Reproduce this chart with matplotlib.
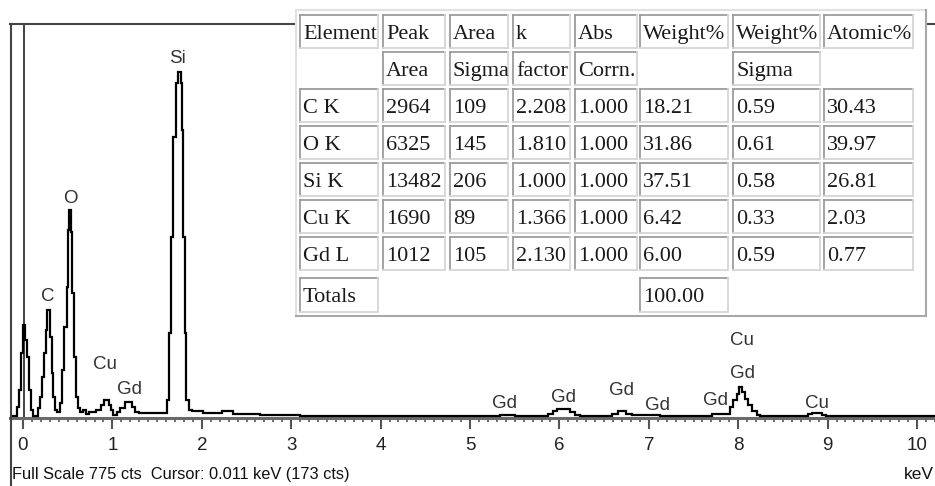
import numpy as np
import matplotlib
matplotlib.use("Agg")
import matplotlib.pyplot as plt
from matplotlib.patches import Rectangle
from matplotlib.lines import Line2D
from matplotlib.ticker import FixedLocator

# ---------------- spectrum data (step edges in keV, counts per step) -------------
edges = [-0.145, -0.067, -0.045, -0.022, 0.000, 0.022, 0.045, 0.067, 0.089, 0.112,
         0.168, 0.190, 0.213, 0.235, 0.257, 0.274, 0.302, 0.319, 0.336, 0.358,
         0.380, 0.414, 0.433, 0.459, 0.489, 0.507, 0.520, 0.537, 0.551, 0.574,
         0.593, 0.615, 0.638, 0.671, 0.705, 0.738, 0.817, 0.872, 0.906, 0.962,
         0.984, 1.007, 1.051, 1.085, 1.141, 1.219, 1.253, 1.298, 1.607, 1.636,
         1.655, 1.674, 1.711, 1.734, 1.764, 1.775, 1.793, 1.809, 1.823, 1.857,
         1.890, 2.013, 2.226, 2.349, 2.651, 3.098, 5.336, 5.503, 5.872, 5.928,
         5.973, 6.119, 6.174, 6.230, 6.588, 6.655, 6.745, 6.812, 7.125, 7.707,
         7.908, 7.942, 7.981, 8.012, 8.043, 8.076, 8.113, 8.151, 8.207, 8.244,
         8.781, 8.826, 8.937, 8.982, 10.201]
counts = [3, 22, 55, 128, 183, 153, 120, 55, 16,
          4, 20, 41, 81, 128, 173, 212, 159, 89, 41,
          16, 12, 30, 94, 179, 258, 370, 409, 366, 246,
          120, 41, 20, 12, 16, 8, 12, 16, 26, 35,
          26, 16, 6, 12, 20, 32, 22, 12, 9, 35,
          167, 356, 553, 659, 681, 659, 567, 356, 167, 35,
          16, 14, 10, 13, 8, 5, 3, 5, 3, 8,
          14, 17, 12, 6, 3, 8, 13, 7, 6, 3,
          7, 22, 35, 47, 61, 51, 37, 26, 14, 6,
          3, 7, 9, 6, 3]

# ---------------- peak labels -----------------
label_text = ["Si", "O", "C", "Cu", "Gd", "Gd", "Gd", "Gd", "Gd", "Gd", "Cu", "Gd", "Cu"]
label_energy = [1.723, 0.526, 0.274, 0.917, 1.191, 5.39, 6.046, 6.70, 7.10, 7.75, 8.04, 8.05, 8.88]
label_counts = [711, 436, 243, 109, 61, 32, 45, 58, 29, 39, 156, 91, 33]

# ---------------- quantification table -----------------
header1 = ["Element", "Peak", "Area", "k", "Abs", "Weight%", "Weight%", "Atomic%"]
header2 = ["", "Area", "Sigma", "factor", "Corrn.", "", "Sigma", ""]
elements = ["C K", "O K", "Si K", "Cu K", "Gd L"]
peak_area = ["2964", "6325", "13482", "1690", "1012"]
area_sigma = ["109", "145", "206", "89", "105"]
k_factor = ["2.208", "1.810", "1.000", "1.366", "2.130"]
abs_corrn = ["1.000", "1.000", "1.000", "1.000", "1.000"]
weight_pct = ["18.21", "31.86", "37.51", "6.42", "6.00"]
weight_sigma = ["0.59", "0.61", "0.58", "0.33", "0.59"]
atomic_pct = ["30.43", "39.97", "26.81", "2.03", "0.77"]
totals_row = ["Totals", "", "", "", "", "100.00", "", ""]

full_scale = 775

# ---------------- figure -----------------
W, H = 935, 486
fig = plt.figure(figsize=(W / 100, H / 100), dpi=100)
fig.patch.set_facecolor("white")

def fx(px):
    return px / W

def fy(py):
    return 1 - py / H

ax = fig.add_axes([fx(10), fy(418), (935 - 10) / W, (418 - 24) / H])
ax.set_xlim(-0.1454, 10.2013)
ax.set_ylim(0, full_scale)
ax.set_facecolor("white")

ax.stairs(counts, edges, baseline=None, color="black", lw=1.6, zorder=3)
ax.axvline(0.011, color="#333333", lw=1.3, zorder=2)

label_fs = 13.5
for t, e, c in zip(label_text, label_energy, label_counts):
    ax.annotate(t, (e, c), xytext=(0, -0.358 * label_fs), textcoords="offset points",
                ha="center", va="baseline", fontsize=label_fs, color="#333333",
                family="Liberation Sans", zorder=4)

ax.set_xticks(range(0, 11))
ax.xaxis.set_minor_locator(FixedLocator(np.round(np.arange(0, 10.25, 0.1), 2)))
ax.set_yticks([])
ax.tick_params(axis="x", which="major", length=8, width=1.5, color="#555555",
               direction="out", pad=5.5, labelsize=13.5, labelcolor="#222222")
ax.tick_params(axis="x", which="minor", length=3, width=1.2, color="#555555",
               direction="out")
for lab in ax.get_xticklabels():
    lab.set_family("Liberation Sans")
ax.spines["left"].set_visible(False)
ax.spines["right"].set_visible(False)
ax.spines["top"].set_color("#444444")
ax.spines["top"].set_linewidth(1.5)
ax.spines["bottom"].set_color("#6a6a6a")
ax.spines["bottom"].set_linewidth(2.2)

# ---------------- overlay (frame, table, footer) -----------------
ov = fig.add_axes([0, 0, 1, 1], zorder=5)
ov.set_xlim(0, W)
ov.set_ylim(H, 0)
ov.axis("off")
ov.patch.set_alpha(0)

ov.add_line(Line2D([10.5, 10.5], [24, 486], color="#444444", lw=1.5))

# table background and outer border
ov.add_patch(Rectangle((296, 10), 631, 306, facecolor="white", edgecolor="none"))
ov.add_line(Line2D([296, 296], [10, 316], color="#e0e0e0", lw=1.5))
ov.add_line(Line2D([296, 926], [10, 10], color="#e0e0e0", lw=1.5))
ov.add_line(Line2D([926, 926], [10, 316], color="#a8a8a8", lw=1.5))
ov.add_line(Line2D([296, 926], [316, 316], color="#a8a8a8", lw=1.5))

col_x0 = [300, 383, 450, 513, 575, 640, 733, 824]
col_x1 = [378, 445, 508, 570, 637, 728, 820, 913]
row_tops = [15, 52, 89, 126, 163, 200, 237, 278]
row_h = 33

def cell(x0, x1, y0, y1, text):
    ov.add_line(Line2D([x0, x1], [y0, y0], color="#9c9c9c", lw=1.3))
    ov.add_line(Line2D([x0, x0], [y0, y1], color="#9c9c9c", lw=1.3))
    ov.add_line(Line2D([x0, x1], [y1, y1], color="#d6d6d6", lw=1.3))
    ov.add_line(Line2D([x1, x1], [y0, y1], color="#d6d6d6", lw=1.3))
    ov.text(x0 + 3, y0 + 24, text, ha="left", va="baseline", fontsize=16,
            family="Liberation Serif", color="#1a1a1a")

rows = [header1, header2]
for i in range(len(elements)):
    rows.append([elements[i], peak_area[i], area_sigma[i], k_factor[i],
                 abs_corrn[i], weight_pct[i], weight_sigma[i], atomic_pct[i]])
rows.append(totals_row)

for r, row in enumerate(rows):
    y0 = row_tops[r]
    y1 = y0 + row_h + (1 if r == len(rows) - 1 else 0)
    for c, txt in enumerate(row):
        if txt == "" and r in (1, len(rows) - 1):
            continue
        cell(col_x0[c], col_x1[c], y0, y1, txt)

ov.text(12, 479, "Full Scale 775 cts  Cursor: 0.011 keV (173 cts)", ha="left",
        va="baseline", fontsize=11.8, family="Liberation Sans", color="#111111")
ov.text(934, 479, "keV", ha="right", va="baseline", fontsize=12.5,
        family="Liberation Sans", color="#111111")

fig.savefig("out.png", dpi=100, facecolor="white")
